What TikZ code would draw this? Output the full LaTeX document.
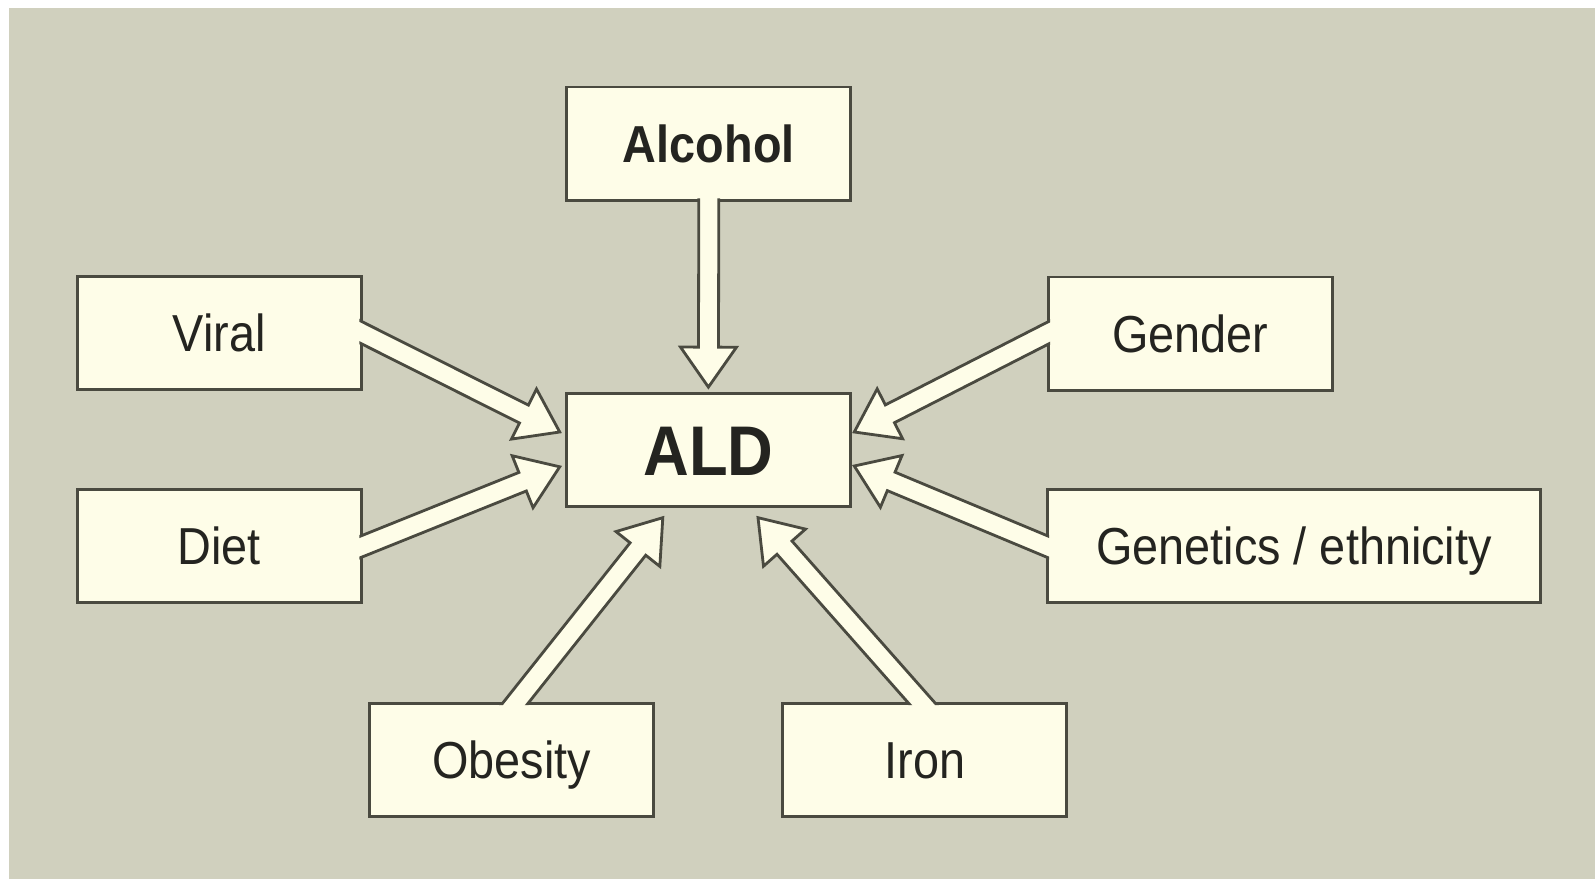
\documentclass[tikz,border=0pt]{standalone}
\usepackage{fontspec}
\setmainfont{Liberation Sans}[FakeStretch=0.9]
\usetikzlibrary{calc}

\definecolor{panel}{RGB}{208,208,190}
\definecolor{cream}{RGB}{254,253,232}
\definecolor{edge}{RGB}{74,74,64}
\definecolor{ink}{RGB}{36,36,32}

\newcommand{\shafthalf}{0.25cm}
\newcommand{\headhalf}{0.7cm}
% hollow block arrow: #1 source box, #2 tail, #3 tip
\newcommand{\hollowarrow}[3]{%
	\begin{scope}[even odd rule]
		\clip (0,0) rectangle (39.875,-21.975)
			([shift={(2.3pt,2.3pt)}]#1.south west) rectangle ([shift={(-2.3pt,-2.3pt)}]#1.north east);
		\coordinate (hb) at ($(#3)!1cm!(#2)$);
		\coordinate (tl) at ($(#2)!-0.6cm!(#3)$);
		\fill[cream] ($(tl)!\shafthalf!90:(#3)$) -- ($(hb)!\shafthalf!90:(#3)$) -- ($(hb)!\headhalf!90:(#3)$) -- (#3)
			-- ($(hb)!\headhalf!-90:(#3)$) -- ($(hb)!\shafthalf!-90:(#3)$) -- ($(tl)!\shafthalf!-90:(#3)$) -- cycle;
		\draw[edge,line width=2pt] ($(tl)!\shafthalf!90:(#3)$) -- ($(hb)!\shafthalf!90:(#3)$) -- ($(hb)!\headhalf!90:(#3)$) -- (#3)
			-- ($(hb)!\headhalf!-90:(#3)$) -- ($(hb)!\shafthalf!-90:(#3)$) -- ($(tl)!\shafthalf!-90:(#3)$);
	\end{scope}
}

\begin{document}
\begin{tikzpicture}
		\tikzstyle{factor} = [rectangle,draw=edge,line width=2.1pt,fill=cream,text=ink,minimum width=7.1cm,minimum height=2.83cm,inner sep=0pt,text height=34pt,text depth=7.5pt,font=\fontsize{37}{44}\selectfont]
		\tikzstyle{factorbf} = [factor,font=\fontsize{37}{44}\selectfont\bfseries]
		\tikzstyle{hub} = [factor,text height=45pt,text depth=9.2pt,font=\fontsize{50}{60}\selectfont\bfseries]
		\fill[white] (0,0) rectangle (39.875,-21.975);
		\useasboundingbox (0,0) rectangle (39.875,-21.975);
		\fill[panel] (0.225,-0.2) rectangle (39.875,-21.975);
		% boxes
		\node[hub] (ald) at (17.71,-11.25) {ALD};
		\node[factorbf] (alcohol) at (17.72,-3.59) {Alcohol};
		\node[factor] (viral) at (5.48,-8.33) {Viral};
		\node[factor] (diet) at (5.48,-13.65) {Diet};
		\node[factor] (gender) at (29.76,-8.34) {Gender};
		\node[factor,minimum width=12.33cm] (genetics) at (32.35,-13.65) {Genetics / ethnicity};
		\node[factor] (obesity) at (12.79,-19.0) {Obesity};
		\node[factor] (iron) at (23.12,-19.0) {Iron};
		% arrow tips round ALD
		\coordinate (tipal) at ([yshift=0.12cm]ald.north);
		\coordinate (tipvi) at ([xshift=-0.13cm,yshift=0.45cm]ald.west);
		\coordinate (tipdi) at ([xshift=-0.13cm,yshift=-0.42cm]ald.west);
		\coordinate (tipge) at ([xshift=0.06cm,yshift=0.45cm]ald.east);
		\coordinate (tipgn) at ([xshift=0.06cm,yshift=-0.4cm]ald.east);
		\coordinate (tipob) at ([xshift=-1.14cm,yshift=-0.24cm]ald.south);
		\coordinate (tipir) at ([xshift=1.24cm,yshift=-0.24cm]ald.south);
		\coordinate (tailob) at ([xshift=0.12cm]obesity.north);
		\coordinate (tailir) at ([xshift=-0.1cm]iron.north);
		% arrows
		\hollowarrow{alcohol}{alcohol.south}{tipal}
		\hollowarrow{viral}{viral.east}{tipvi}
		\hollowarrow{diet}{diet.east}{tipdi}
		\hollowarrow{gender}{gender.west}{tipge}
		\hollowarrow{genetics}{genetics.west}{tipgn}
		\hollowarrow{obesity}{tailob}{tipob}
		\hollowarrow{iron}{tailir}{tipir}
	\end{tikzpicture}
\end{document}
